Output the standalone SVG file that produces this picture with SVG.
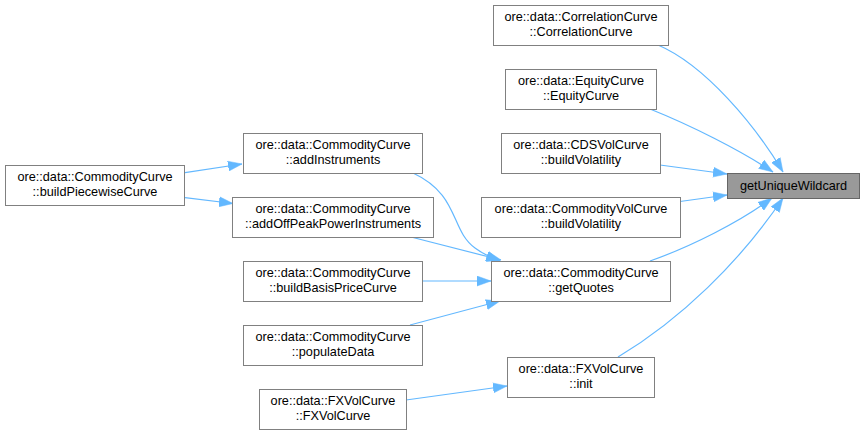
<svg xmlns="http://www.w3.org/2000/svg" width="864" height="435" viewBox="0 0 864 435">
<style>
.n rect{fill:#ffffff;stroke:#808080;stroke-width:1}
.n.h rect{fill:#999999;stroke:#666666}
.n text{font-family:"Liberation Sans",Arial,sans-serif;font-size:12.7px;fill:#000000;text-anchor:middle}
.e path{fill:none;stroke:#63b8ff;stroke-width:1.2;marker-end:url(#ah)}
</style>
<defs>
<marker id="ah" markerUnits="userSpaceOnUse" markerWidth="15" markerHeight="11" refX="14" refY="5.5" orient="auto">
<path d="M0,0.5 L14,5.5 L0,10.5 z" fill="#63b8ff" stroke="#63b8ff" stroke-width="0.5"/>
</marker>
</defs>
<rect width="864" height="435" fill="#ffffff"/>
<g id="edges" class="e">
<path d="M658,45 C705,65 755,125 783,172"/>
<path d="M650,109 C690,125 740,150 773,172"/>
<path d="M660,165 L727,174"/>
<path d="M680,201.5 L727,195"/>
<path d="M650,261 C690,247 740,222 772,198"/>
<path d="M618,357 C680,320 740,262 783,198"/>
<path d="M185,172.7 L242,164"/>
<path d="M185,197.7 L233,203.5"/>
<path d="M413,173 C460,195 450,230 475,248 C483,254 492,258 500,261"/>
<path d="M411,237 L501,260"/>
<path d="M422,281 L491,281"/>
<path d="M410,325 L500,301"/>
<path d="M406,400 L507,386"/>
</g>
<g id="getUniqueWildcard" class="n h"><rect x="727.5" y="173.5" width="132" height="25"/><text x="793.5" y="190">getUniqueWildcard</text></g>
<g id="CorrelationCurve" class="n"><rect x="493.5" y="5.5" width="175" height="40"/><text x="581" y="21">ore::data::CorrelationCurve</text><text x="581" y="36">::CorrelationCurve</text></g>
<g id="EquityCurve" class="n"><rect x="505.5" y="69.5" width="151" height="40"/><text x="581" y="85">ore::data::EquityCurve</text><text x="581" y="100">::EquityCurve</text></g>
<g id="CDSVolCurve" class="n"><rect x="501.5" y="133.5" width="159" height="40"/><text x="581" y="149">ore::data::CDSVolCurve</text><text x="581" y="164">::buildVolatility</text></g>
<g id="CommodityVolCurve" class="n"><rect x="481.5" y="197.5" width="199" height="40"/><text x="581" y="213">ore::data::CommodityVolCurve</text><text x="581" y="228">::buildVolatility</text></g>
<g id="getQuotes" class="n"><rect x="491.5" y="261.5" width="179" height="40"/><text x="581" y="277">ore::data::CommodityCurve</text><text x="581" y="292">::getQuotes</text></g>
<g id="FXVolCurveInit" class="n"><rect x="507.5" y="357.5" width="147" height="40"/><text x="581" y="373">ore::data::FXVolCurve</text><text x="581" y="388">::init</text></g>
<g id="buildPiecewiseCurve" class="n"><rect x="5.5" y="165.5" width="179" height="40"/><text x="95" y="181">ore::data::CommodityCurve</text><text x="95" y="196">::buildPiecewiseCurve</text></g>
<g id="addInstruments" class="n"><rect x="243.5" y="133.5" width="179" height="40"/><text x="333" y="149">ore::data::CommodityCurve</text><text x="333" y="164">::addInstruments</text></g>
<g id="addOffPeakPowerInstruments" class="n"><rect x="232.5" y="197.5" width="201" height="40"/><text x="333" y="213">ore::data::CommodityCurve</text><text x="333" y="228">::addOffPeakPowerInstruments</text></g>
<g id="buildBasisPriceCurve" class="n"><rect x="243.5" y="261.5" width="179" height="40"/><text x="333" y="277">ore::data::CommodityCurve</text><text x="333" y="292">::buildBasisPriceCurve</text></g>
<g id="populateData" class="n"><rect x="243.5" y="325.5" width="179" height="40"/><text x="333" y="341">ore::data::CommodityCurve</text><text x="333" y="356">::populateData</text></g>
<g id="FXVolCurve" class="n"><rect x="259.5" y="389.5" width="147" height="40"/><text x="333" y="405">ore::data::FXVolCurve</text><text x="333" y="420">::FXVolCurve</text></g>
</svg>
